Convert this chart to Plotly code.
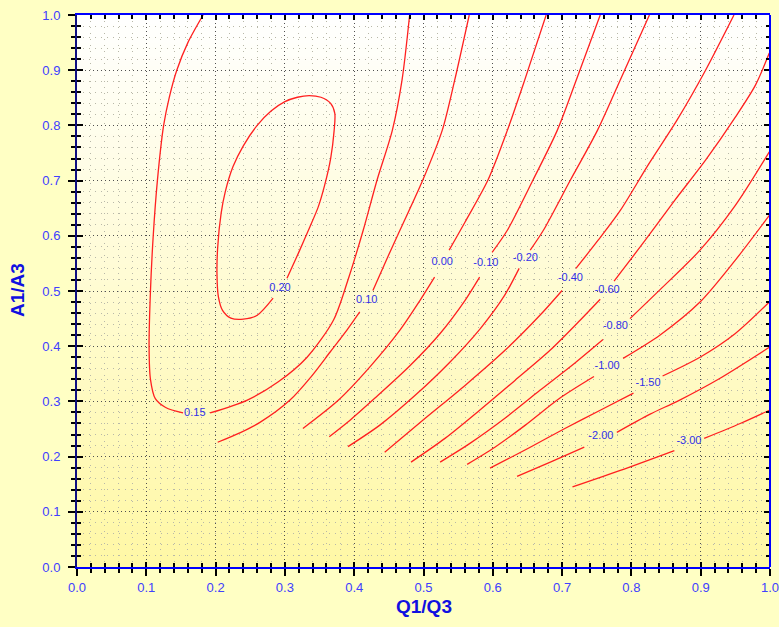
import plotly.graph_objects as go

# ---------------- data ----------------
# contour level 0.20 (closed loop, gap at label)
c020_x = [0.303, 0.320, 0.336, 0.348, 0.357, 0.366, 0.371, 0.372, 0.366, 0.352, 0.335, 0.318, 0.300, 0.280, 0.260, 0.240, 0.225, 0.214, 0.208, 0.203, 0.202, 0.204, 0.210, 0.222, 0.240, 0.260, 0.283]
c020_y = [0.523, 0.570, 0.616, 0.652, 0.690, 0.740, 0.790, 0.822, 0.840, 0.851, 0.854, 0.851, 0.843, 0.826, 0.800, 0.763, 0.725, 0.680, 0.641, 0.579, 0.530, 0.490, 0.465, 0.451, 0.449, 0.456, 0.487]
# 0.15
c015_x = [0.182, 0.160, 0.144, 0.133, 0.125, 0.116, 0.110, 0.106, 0.104, 0.106, 0.113, 0.128, 0.153, None, 0.192, 0.245, 0.290, 0.332, 0.370, 0.391, 0.413, 0.433, 0.455, 0.469, 0.480]
c015_y = [1.000, 0.950, 0.900, 0.850, 0.800, 0.700, 0.600, 0.500, 0.400, 0.340, 0.305, 0.289, 0.279, None, 0.279, 0.302, 0.335, 0.380, 0.447, 0.520, 0.610, 0.701, 0.791, 0.882, 1.000]
# 0.10
c010_x = [0.203, 0.235, 0.264, 0.307, 0.338, 0.365, 0.390, 0.408, None, 0.427, 0.446, 0.466, 0.499, 0.527, 0.545, 0.566]
c010_y = [0.226, 0.243, 0.262, 0.302, 0.345, 0.389, 0.430, 0.462, None, 0.501, 0.555, 0.610, 0.701, 0.791, 0.882, 1.000]
# 0.00
c000_x = [0.326, 0.377, 0.423, 0.466, 0.495, 0.516, None, 0.537, 0.560, 0.593, 0.621, 0.646, 0.677]
c000_y = [0.251, 0.302, 0.363, 0.429, 0.483, 0.525, None, 0.574, 0.625, 0.701, 0.791, 0.882, 1.000]
# -0.10
cm010_x = [0.364, 0.394, 0.430, 0.480, 0.524, 0.560, 0.581, None, 0.599, 0.621, 0.658, 0.693, 0.723, 0.755]
cm010_y = [0.236, 0.266, 0.306, 0.364, 0.423, 0.483, 0.525, None, 0.570, 0.610, 0.701, 0.791, 0.891, 1.000]
# -0.20
cm020_x = [0.391, 0.437, 0.488, 0.538, 0.582, 0.617, 0.638, None, 0.654, 0.673, 0.712, 0.751, 0.787, 0.826]
cm020_y = [0.218, 0.257, 0.311, 0.371, 0.432, 0.492, 0.541, None, 0.574, 0.610, 0.701, 0.791, 0.891, 1.000]
# -0.40
cm040_x = [0.444, 0.502, 0.560, 0.618, 0.668, 0.700, None, 0.720, 0.752, 0.784, 0.824, 0.866, 0.907, 0.948]
cm040_y = [0.208, 0.269, 0.329, 0.393, 0.456, 0.501, None, 0.541, 0.592, 0.646, 0.728, 0.810, 0.900, 1.000]
# -0.60
cm060_x = [0.482, 0.531, 0.581, 0.632, 0.683, 0.726, 0.755, None, 0.775, 0.820, 0.863, 0.907, 0.950, 0.979, 0.999]
cm060_y = [0.190, 0.233, 0.284, 0.338, 0.393, 0.447, 0.485, None, 0.518, 0.592, 0.665, 0.737, 0.815, 0.873, 0.931]
# -0.80
cm080_x = [0.524, 0.567, 0.618, 0.668, 0.719, 0.759, None, 0.798, 0.841, 0.899, 0.950, 0.999]
cm080_y = [0.190, 0.224, 0.270, 0.320, 0.370, 0.412, None, 0.450, 0.502, 0.574, 0.655, 0.752]
# -1.00
cm100_x = [0.563, 0.603, 0.647, 0.697, 0.746, None, 0.788, 0.841, 0.899, 0.950, 0.999]
cm100_y = [0.186, 0.217, 0.257, 0.306, 0.345, None, 0.378, 0.420, 0.480, 0.556, 0.637]
# -1.50
cm150_x = [0.596, 0.654, 0.704, 0.755, 0.803, None, 0.845, 0.899, 0.950, 0.999]
cm150_y = [0.179, 0.217, 0.251, 0.284, 0.315, None, 0.346, 0.380, 0.423, 0.480]
# -2.00
cm200_x = [0.635, 0.683, 0.732, None, 0.779, 0.827, 0.869, 0.928, 0.999]
cm200_y = [0.164, 0.190, 0.217, None, 0.244, 0.277, 0.302, 0.342, 0.398]
# -3.00
cm300_x = [0.715, 0.784, 0.862, None, 0.905, 0.957, 0.999]
cm300_y = [0.145, 0.175, 0.211, None, 0.233, 0.260, 0.284]

label_text = ["0.20", "0.15", "0.10", "0.00", "-0.10", "-0.20", "-0.40", "-0.60", "-0.80", "-1.00", "-1.50", "-2.00", "-3.00"]
label_x = [0.293, 0.170, 0.418, 0.527, 0.590, 0.647, 0.712, 0.765, 0.777, 0.765, 0.824, 0.756, 0.883]
label_y = [0.505, 0.279, 0.483, 0.552, 0.550, 0.559, 0.523, 0.501, 0.436, 0.364, 0.333, 0.236, 0.227]

x_title = "Q1/Q3"
y_title = "A1/A3"

# ---------------- figure ----------------
contours = [(c020_x, c020_y), (c015_x, c015_y), (c010_x, c010_y), (c000_x, c000_y),
            (cm010_x, cm010_y), (cm020_x, cm020_y), (cm040_x, cm040_y), (cm060_x, cm060_y),
            (cm080_x, cm080_y), (cm100_x, cm100_y), (cm150_x, cm150_y), (cm200_x, cm200_y),
            (cm300_x, cm300_y)]

fig = go.Figure()
for cx, cy in contours:
    fig.add_trace(go.Scatter(x=cx, y=cy, mode="lines", connectgaps=False,
                             line=dict(color="#FF2020", width=1.3, shape="spline", smoothing=0.8),
                             hoverinfo="skip", showlegend=False))

fig.add_trace(go.Scatter(x=label_x, y=label_y, mode="text", text=label_text,
                         textfont=dict(family="Arial, Liberation Sans", size=11, color="#3030E8"),
                         hoverinfo="skip", showlegend=False))

# invisible trace to activate the overlay axes (inside ticks)
fig.add_trace(go.Scatter(x=[0, 1], y=[0, 1], xaxis="x2", yaxis="y2", mode="markers",
                         marker=dict(opacity=0), hoverinfo="skip", showlegend=False))

# vertical gradient background of plot area (white at top -> yellow at bottom)
n_bands = 120
top_c = (255, 255, 255)
bot_c = (255, 248, 165)
shapes = []
for i in range(n_bands):
    t = (i + 0.5) / n_bands  # 0 bottom -> 1 top
    col = tuple(round(bot_c[k] + (top_c[k] - bot_c[k]) * t) for k in range(3))
    shapes.append(dict(type="rect", xref="x domain", yref="y domain",
                       x0=0, x1=1, y0=i / n_bands, y1=(i + 1) / n_bands + 0.002,
                       fillcolor="rgb(%d,%d,%d)" % col, line=dict(width=0), layer="below"))
# right frame line (bright blue)
shapes.append(dict(type="line", xref="x domain", yref="y domain", x0=1, x1=1, y0=0, y1=1,
                   line=dict(color="#0000FF", width=2), layer="above"))

tickfont = dict(family="Arial, Liberation Sans", size=13, color="#4040FF")
titlefont = dict(family="Arial, Liberation Sans", size=19, color="#1010E0")

annotations = [
    dict(text="<b>" + x_title + "</b>", xref="paper", yref="paper", x=0.5, y=-0.071,
         xanchor="center", yanchor="middle", showarrow=False, font=titlefont),
    dict(text="<b>" + y_title + "</b>", xref="paper", yref="paper", x=-0.085, y=0.502,
         xanchor="center", yanchor="middle", textangle=-90, showarrow=False, font=titlefont),
]

fig.update_layout(
    width=779, height=627,
    margin=dict(l=77, r=9, t=15, b=60),
    paper_bgcolor="#FFFFC4",
    plot_bgcolor="#FFFFFF",
    shapes=shapes,
    annotations=annotations,
    showlegend=False,
    xaxis=dict(range=[0, 1], tick0=0, dtick=0.1, tickformat=".1f", automargin=False,
               ticks="outside", ticklen=7, tickwidth=2, tickcolor="black",
               showline=True, linecolor="#0000FF", linewidth=2, mirror=True,
               showgrid=True, gridcolor="#505050", gridwidth=1, griddash="1px,3px",
               zeroline=False, tickfont=tickfont, ticklabelstandoff=0,
               ticklabeloverflow="allow",
               minor=dict(tick0=0, dtick=0.02, ticks="outside", ticklen=4, tickwidth=1.5,
                          tickcolor="black", showgrid=True, gridcolor="#B8B8A8",
                          gridwidth=1, griddash="1px,5px")),
    yaxis=dict(range=[0, 1], tick0=0, dtick=0.1, tickformat=".1f", automargin=False,
               ticks="outside", ticklen=7, tickwidth=2, tickcolor="black",
               showline=True, linecolor="#101080", linewidth=2, mirror=False,
               showgrid=True, gridcolor="#505050", gridwidth=1, griddash="1px,3px",
               zeroline=False, tickfont=tickfont, ticklabelstandoff=5,
               ticklabeloverflow="allow",
               minor=dict(tick0=0, dtick=0.02, ticks="outside", ticklen=4, tickwidth=1.5,
                          tickcolor="black", showgrid=True, gridcolor="#B8B8A8",
                          gridwidth=1, griddash="1px,5px")),
    xaxis2=dict(overlaying="x", anchor="y2", range=[0, 1], tick0=0, dtick=0.1, automargin=False,
                ticks="inside", ticklen=5, tickwidth=2, tickcolor="black",
                mirror="allticks", showline=False, showticklabels=False,
                showgrid=False, zeroline=False,
                minor=dict(tick0=0, dtick=0.02, ticks="inside", ticklen=4, tickwidth=1.5,
                           tickcolor="black", showgrid=False)),
    yaxis2=dict(overlaying="y", anchor="x2", range=[0, 1], tick0=0, dtick=0.1, automargin=False,
                ticks="inside", ticklen=6, tickwidth=2, tickcolor="black",
                mirror="allticks", showline=False, showticklabels=False,
                showgrid=False, zeroline=False,
                minor=dict(tick0=0, dtick=0.02, ticks="inside", ticklen=4, tickwidth=1.5,
                           tickcolor="black", showgrid=False)),
)

fig.write_html("out.html", config={"displayModeBar": False},
               post_script="document.body.style.margin='0px';document.body.style.background='#FFFFC4';")
